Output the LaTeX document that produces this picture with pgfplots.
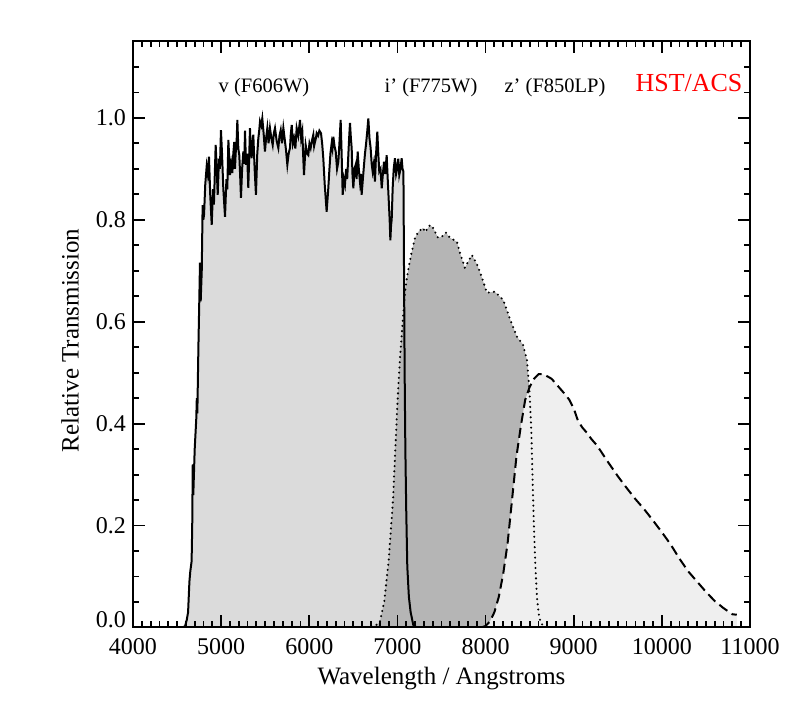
\documentclass[border=0pt]{standalone}
\usepackage{fontspec}
\setmainfont{Liberation Serif}
\usepackage{pgfplots}
\usepackage{pgfplotstable}
\pgfplotsset{compat=1.18}
\definecolor{vfill}{gray}{0.86}
\definecolor{ifill}{gray}{0.71}
\definecolor{zfill}{gray}{0.937}

% v (F606W)
\pgfplotstableread{
x y
4550 0
4590 0.002
4610 0.015
4625 0.03
4640 0.09
4650 0.11
4665 0.13
4672 0.2
4678 0.32
4684 0.26
4700 0.35
4718 0.41
4724 0.45
4730 0.42
4742 0.55
4752 0.64
4760 0.716
4768 0.64
4780 0.7
4790 0.829
4798 0.80
4806 0.81
4820 0.87
4836 0.905
4848 0.89
4862 0.924
4876 0.85
4893 0.79
4908 0.86
4918 0.83
4938 0.947
4950 0.90
4961 0.849
4975 0.92
4986 0.90
4998 0.976
5010 0.93
5025 0.86
5044 0.806
5060 0.88
5070 0.86
5082 0.957
5092 0.92
5100 0.888
5114 0.91
5127 0.892
5138 0.93
5149 0.953
5157 0.90
5165 0.931
5175 0.95
5184 0.996
5195 0.94
5206 0.927
5215 0.89
5225 0.843
5238 0.90
5252 0.934
5262 0.91
5271 0.975
5282 0.908
5295 0.93
5308 0.863
5318 0.92
5327 0.98
5336 0.94
5346 0.921
5355 0.95
5365 0.967
5380 0.90
5395 0.849
5410 0.93
5422 0.96
5432 0.975
5441 0.993
5455 0.985
5467 0.999
5482 0.97
5497 0.934
5510 0.96
5524 0.98
5538 0.95
5554 0.98
5570 0.96
5585 0.947
5598 0.97
5611 0.98
5630 0.955
5649 0.941
5662 0.965
5676 0.976
5690 0.95
5706 0.98
5720 0.96
5736 0.937
5751 0.908
5766 0.93
5781 0.941
5791 0.97
5801 0.986
5814 0.95
5827 0.96
5842 0.94
5857 0.98
5875 0.965
5895 0.996
5908 0.96
5921 0.973
5930 0.93
5940 0.888
5950 0.92
5959 0.947
5975 0.93
5989 0.927
6002 0.95
6016 0.941
6030 0.955
6046 0.967
6055 0.945
6065 0.953
6075 0.96
6084 0.97
6100 0.965
6115 0.975
6133 0.97
6146 0.95
6159 0.921
6175 0.87
6197 0.816
6215 0.86
6227 0.895
6240 0.93
6254 0.95
6263 0.94
6273 0.963
6286 0.945
6300 0.934
6315 0.90
6330 0.914
6342 0.95
6356 0.996
6367 0.93
6379 0.849
6392 0.88
6405 0.869
6418 0.90
6430 0.88
6443 0.927
6452 0.96
6462 0.99
6472 0.96
6481 0.941
6490 0.89
6500 0.862
6513 0.90
6526 0.908
6537 0.88
6549 0.934
6562 0.90
6575 0.875
6585 0.89
6594 0.849
6608 0.88
6621 0.908
6632 0.93
6643 0.947
6656 0.97
6670 0.999
6683 0.96
6696 0.941
6708 0.91
6719 0.895
6732 0.91
6745 0.875
6758 0.93
6772 0.973
6783 0.93
6794 0.895
6808 0.90
6822 0.862
6835 0.89
6848 0.914
6862 0.89
6878 0.927
6890 0.88
6904 0.829
6912 0.80
6920 0.76
6928 0.79
6935 0.80
6946 0.862
6958 0.90
6972 0.921
6985 0.89
6998 0.901
7010 0.92
7021 0.888
7035 0.90
7048 0.921
7058 0.90
7068 0.895
7075 0.7
7082 0.5
7090 0.35
7100 0.23
7112 0.12
7130 0.06
7150 0.03
7180 0.005
7220 0
}\vdata

% i' (F775W)
\pgfplotstableread{
x y
6650 0
6750 0.004
6800 0.01
6850 0.05
6900 0.13
6950 0.25
7000 0.44
7030 0.53
7060 0.6
7090 0.665
7120 0.7
7160 0.735
7200 0.765
7240 0.777
7290 0.784
7315 0.776
7370 0.79
7405 0.784
7460 0.765
7505 0.767
7550 0.775
7595 0.765
7675 0.757
7710 0.735
7765 0.706
7845 0.731
7905 0.712
7960 0.686
8015 0.657
8105 0.659
8200 0.643
8280 0.604
8355 0.571
8425 0.555
8470 0.525
8500 0.46
8520 0.38
8535 0.28
8550 0.19
8565 0.12
8585 0.055
8610 0.018
8650 0.003
8700 0
}\idata

% z' (F850LP)
\pgfplotstableread{
x y
7950 0
8000 0.003
8050 0.012
8100 0.03
8150 0.06
8200 0.105
8250 0.165
8300 0.25
8350 0.335
8400 0.395
8450 0.447
8500 0.472
8550 0.488
8600 0.497
8650 0.497
8700 0.493
8750 0.488
8800 0.478
8850 0.468
8900 0.458
8950 0.447
9000 0.43
9050 0.405
9100 0.392
9150 0.382
9200 0.37
9250 0.36
9300 0.348
9400 0.322
9500 0.297
9600 0.274
9700 0.252
9800 0.232
9900 0.21
10000 0.187
10100 0.163
10200 0.135
10300 0.11
10400 0.09
10500 0.07
10600 0.052
10700 0.038
10800 0.026
10850 0.025
}\zdata

\begin{document}
\begin{tikzpicture}
\useasboundingbox (-66.5pt,-41.5pt) rectangle (328pt,313.75pt);
\begin{axis}[
    scale only axis,
    width=308.5pt,
    height=293pt,
    axis on top,
    xmin=4000, xmax=11000,
    ymin=0, ymax=1.15,
    xtick={4000,5000,6000,7000,8000,9000,10000,11000},
    ytick={0.2,0.4,0.6,0.8,1.0},
    extra y ticks={0},
    extra y tick style={yticklabel style={/tikz/yshift=4pt}},
    minor x tick num=9,
    minor ytick={0.05,0.1,0.15,0.25,0.3,0.35,0.45,0.5,0.55,0.65,0.7,0.75,0.85,0.9,0.95,1.05,1.1},
    tick align=inside,
    major tick length=6pt,
    minor tick length=3pt,
    every tick/.style={black, line width=0.9pt},
    axis line style={line width=1pt},
    scaled x ticks=false,
    /pgf/number format/assume math mode=true,
    ticklabel style={font=\fontsize{12}{14}\selectfont},
    x tick label style={/pgf/number format/1000 sep={}, yshift=-2pt},
    y tick label style={/pgf/number format/fixed, /pgf/number format/fixed zerofill, /pgf/number format/precision=1},
    xlabel={Wavelength / Angstroms},
    ylabel={Relative Transmission},
    label style={font=\fontsize{12.5}{15}\selectfont},
    xlabel style={at={(axis description cs:0.5,-0.087)}, anchor=center},
    ylabel style={at={(axis description cs:-0.102,0.49)}, anchor=center},
]
% fills first
\addplot[fill=vfill, draw=none] table {\vdata} \closedcycle;
\addplot[fill=ifill, draw=none] table {\idata} \closedcycle;
\addplot[fill=zfill, draw=none] table {\zdata} \closedcycle;
% outlines on top
\addplot[black, line width=1pt] table {\vdata};
\addplot[black, line width=1.15pt, line cap=round, dash pattern=on 0pt off 2.6pt] table {\idata};
\addplot[black, line width=1pt, dash pattern=on 5pt off 2.6pt] table {\zdata};

\node[anchor=base, font=\fontsize{10.25}{12}\selectfont] at (axis cs:5486,1.049) {v (F606W)};
\node[anchor=base, font=\fontsize{10.25}{12}\selectfont] at (axis cs:7381,1.049) {i’ (F775W)};
\node[anchor=base, font=\fontsize{10.25}{12}\selectfont] at (axis cs:8788,1.049) {z’ (F850LP)};
\node[anchor=base, text=red, font=\fontsize{13}{15}\selectfont] at (axis cs:10308,1.051) {HST/ACS};
\end{axis}
\end{tikzpicture}
\end{document}
